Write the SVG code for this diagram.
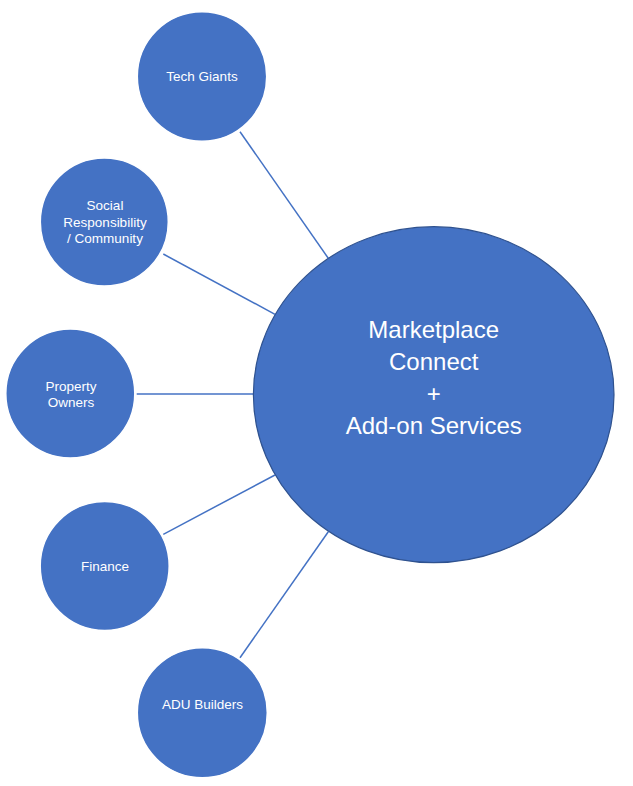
<svg xmlns="http://www.w3.org/2000/svg" width="633" height="786" viewBox="0 0 633 786">
<style>
.small{fill:#4472C4;stroke:#FFFFFF;stroke-width:1.5}
.big{fill:#4472C4;stroke:#2F528F;stroke-width:1.2}
.lbl{font-family:"Liberation Sans",Arial,sans-serif;font-size:13.5px;fill:#FFFFFF;text-anchor:middle}
.biglbl{font-family:"Liberation Sans",Arial,sans-serif;font-size:24px;fill:#FFFFFF;text-anchor:middle}
.conn{stroke:#4472C4;stroke-width:1.5;fill:none}
</style>
<rect width="633" height="786" fill="#FFFFFF"/>
<g id="connectors">
<line class="conn" x1="240" y1="131.7" x2="328.3" y2="258.3"/>
<line class="conn" x1="163.3" y1="254" x2="275" y2="314.3"/>
<line class="conn" x1="136.7" y1="394" x2="253.5" y2="394"/>
<line class="conn" x1="163.3" y1="534.3" x2="275" y2="475"/>
<line class="conn" x1="240" y1="657.7" x2="328.3" y2="531.7"/>
</g>
<g id="marketplace">
<ellipse class="big" cx="433.7" cy="394.7" rx="180.3" ry="168"/>
<text class="biglbl" x="433.7" y="338">Marketplace</text>
<text class="biglbl" x="433.7" y="370">Connect</text>
<text class="biglbl" x="433.7" y="402">+</text>
<text class="biglbl" x="433.7" y="434">Add-on Services</text>
</g>
<g id="tech-giants">
<circle class="small" cx="202" cy="76.5" r="64.7"/>
<text class="lbl" x="202" y="81">Tech Giants</text>
</g>
<g id="social">
<circle class="small" cx="104.3" cy="222" r="64"/>
<text class="lbl" x="105" y="210">Social</text>
<text class="lbl" x="105" y="226.7">Responsibility</text>
<text class="lbl" x="105" y="243.3">/ Community</text>
</g>
<g id="property-owners">
<circle class="small" cx="70.3" cy="393.5" r="64.5"/>
<text class="lbl" x="71" y="391">Property</text>
<text class="lbl" x="71" y="407.3">Owners</text>
</g>
<g id="finance">
<circle class="small" cx="104.7" cy="566" r="64.5"/>
<text class="lbl" x="105" y="571">Finance</text>
</g>
<g id="adu-builders">
<circle class="small" cx="202.3" cy="712.8" r="65"/>
<text class="lbl" x="202.5" y="708.7">ADU Builders</text>
</g>
</svg>
